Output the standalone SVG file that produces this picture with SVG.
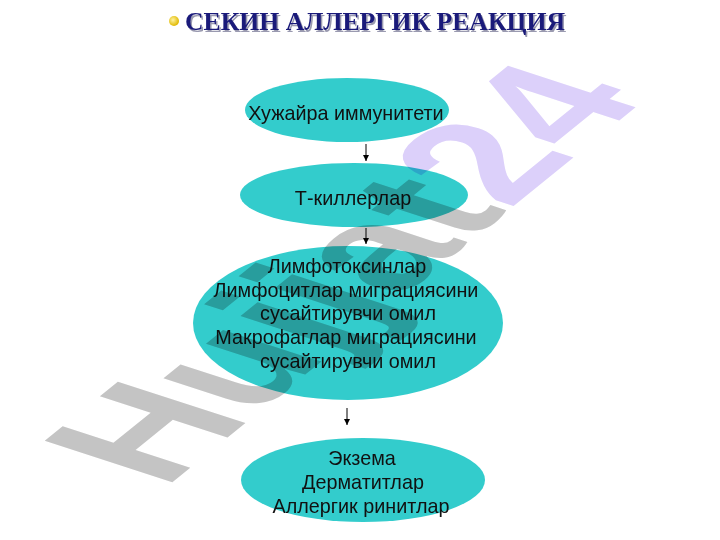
<svg xmlns="http://www.w3.org/2000/svg" width="720" height="540" viewBox="0 0 720 540">
  <defs>
    <style>
      .node { fill: #33CCCC; }
      .lbl { font-family: "Liberation Sans", Arial, sans-serif; font-size: 19.8px; fill: #111111; text-anchor: middle; }
      .conn { stroke: #000000; stroke-width: 1; fill: none; marker-end: url(#arrow); }
      .title { font-family: "Liberation Serif", "Times New Roman", serif; font-size: 26px; font-weight: bold; }
      .wm { font-family: "Liberation Sans", Arial, sans-serif; font-weight: bold; font-size: 100px; mix-blend-mode: multiply; }
    </style>
    <marker id="arrow" viewBox="0 0 10 10" refX="10" refY="5" markerWidth="6" markerHeight="6" orient="auto" markerUnits="userSpaceOnUse">
      <path d="M0,0 L10,5 L0,10 z" fill="#000000"/>
    </marker>
    <radialGradient id="bullet" cx="0.4" cy="0.4" r="0.6">
      <stop offset="0" stop-color="#fff3a0"/>
      <stop offset="1" stop-color="#e0b800"/>
    </radialGradient>
  </defs>
  <rect width="720" height="540" fill="#ffffff"/>

  <g id="title">
    <circle cx="174" cy="21" r="5" fill="url(#bullet)"/>
    <text class="title" x="186.5" y="31.5" fill="#9a9ab0" textLength="380" lengthAdjust="spacingAndGlyphs">СЕКИН АЛЛЕРГИК РЕАКЦИЯ</text>
    <text class="title" x="185" y="30" fill="#1a1a7a" textLength="380" lengthAdjust="spacingAndGlyphs">СЕКИН АЛЛЕРГИК РЕАКЦИЯ</text>
  </g>

  <g id="node1">
    <ellipse class="node" cx="347" cy="110" rx="102" ry="32"/>
    <text class="lbl" x="346" y="120">Хужайра иммунитети</text>
  </g>
  <g id="node2">
    <ellipse class="node" cx="354" cy="195" rx="114" ry="32"/>
    <text class="lbl" x="353" y="205">Т-киллерлар</text>
  </g>
  <g id="node3">
    <ellipse class="node" cx="348" cy="323" rx="155" ry="77"/>
    <text class="lbl" x="347" y="273">Лимфотоксинлар</text>
    <text class="lbl" x="346" y="297">Лимфоцитлар миграциясини</text>
    <text class="lbl" x="348" y="320">сусайтирувчи омил</text>
    <text class="lbl" x="346" y="344">Макрофаглар миграциясини</text>
    <text class="lbl" x="348" y="368">сусайтирувчи омил</text>
  </g>
  <g id="node4">
    <ellipse class="node" cx="363" cy="480" rx="122" ry="42"/>
    <text class="lbl" x="362" y="465">Экзема</text>
    <text class="lbl" x="363" y="489">Дерматитлар</text>
    <text class="lbl" x="361" y="513">Аллергик ринитлар</text>
  </g>

  <g id="connectors">
    <line class="conn" x1="366" y1="144" x2="366" y2="161"/>
    <line class="conn" x1="366" y1="228" x2="366" y2="244"/>
    <line class="conn" x1="347" y1="408" x2="347" y2="425"/>
  </g>

  <g id="watermark">
    <text class="wm" transform="matrix(1.243,-1.006,1.854,0.603,164,489)"><tspan fill="#c4c4c4">Hujjat</tspan><tspan fill="#dcd0fa">24</tspan></text>
  </g>
</svg>
